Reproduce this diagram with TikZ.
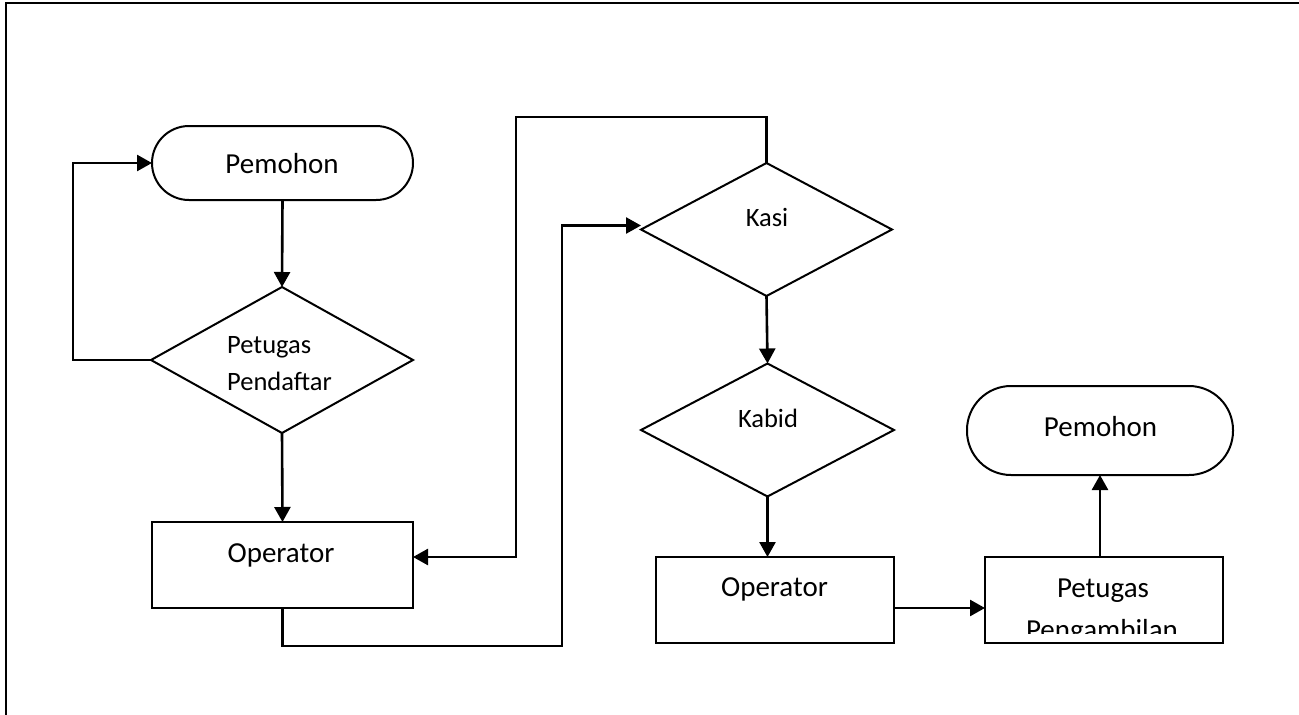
\documentclass[tikz,border=0pt]{standalone}
\usepackage{fontspec}
\setmainfont{Carlito}
\usetikzlibrary{shapes.geometric,arrows.meta}
\begin{document}
\begin{tikzpicture}[x=1pt,y=-1pt,
  shapeline/.style={draw, line width=2pt, inner sep=0pt, outer sep=0pt},
  term/.style={shapeline, rectangle},
  dec/.style={shapeline, diamond},
  proc/.style={shapeline, rectangle},
  conn/.style={line width=2.6pt, -{Triangle[length=15pt,width=16pt]}},
  big/.style={font=\fontsize{29}{35}\selectfont, inner sep=0pt, anchor=base},
  small/.style={font=\fontsize{26.5}{37}\selectfont, inner sep=0pt, anchor=base},
]
\useasboundingbox (0,0) rectangle (1299,715);
% page frame (left and top edges)
\draw[line width=2.4pt] (6,715) -- (6,3) -- (1299,3);

% shapes
\node[term, rounded corners=37pt, minimum width=261pt, minimum height=74pt] (pem1) at (282.5,163) {};
\node[dec, minimum width=262pt, minimum height=146pt] (pend) at (282,360) {};
\node[proc, minimum width=261pt, minimum height=86pt] (op1) at (282.5,565) {};
\node[dec, minimum width=251pt, minimum height=133pt] (kasi) at (766.5,229.5) {};
\node[dec, minimum width=253pt, minimum height=133pt] (kabid) at (767.5,430) {};
\node[proc, minimum width=238pt, minimum height=86pt] (op2) at (775,600) {};
\node[proc, minimum width=238pt, minimum height=86pt] (ambil) at (1104,600) {};
\node[term, rounded corners=44pt, minimum width=266pt, minimum height=89pt] (pem2) at (1100,430.5) {};

% texts
\node[big] (tpem1) at (282,173) {Pemohon};
\node[small, anchor=base west] (tpend1) at (227,353) {Petugas};
\node[small, anchor=base west] (tpend2) at (227,390) {Pendaftar};
\node[big] (top1) at (281,562) {Operator};
\node[small] (tkasi) at (767,226) {Kasi};
\node[small] (tkabid) at (768,427) {Kabid};
\node[big] (top2) at (774.5,596) {Operator};
\node[big] (tambil1) at (1103,597) {Petugas};
\begin{scope}
  \clip (985,557) rectangle (1223,633);
  \node[big] (tambil2) at (1102,639) {Pengambilan};
\end{scope}
\node[big] (tpem2) at (1100.5,436) {Pemohon};

% connectors
\coordinate (loopL) at (73,360);
\coordinate (b1) at (562,646);
\coordinate (c1) at (516,117);
\draw[conn] (pem1.south) -- (pend.north);
\draw[conn] (pend.west) -- (loopL) |- (pem1.west);
\draw[conn] (pend.south) -- (op1.north);
\draw[conn] (op1.south) |- (b1) |- ([yshift=4pt]kasi.west);
\draw[conn] (kasi.north) |- (c1) |- ([yshift=8pt]op1.east);
\draw[conn] (kasi.south) -- (kabid.north);
\draw[conn] (kabid.south) -- (kabid.south |- op2.north);
\draw[conn] ([yshift=-8pt]op2.east) -- ([yshift=-8pt]ambil.west);
\draw[conn] (ambil.north -| pem2.south) -- (pem2.south);
\end{tikzpicture}
\end{document}
